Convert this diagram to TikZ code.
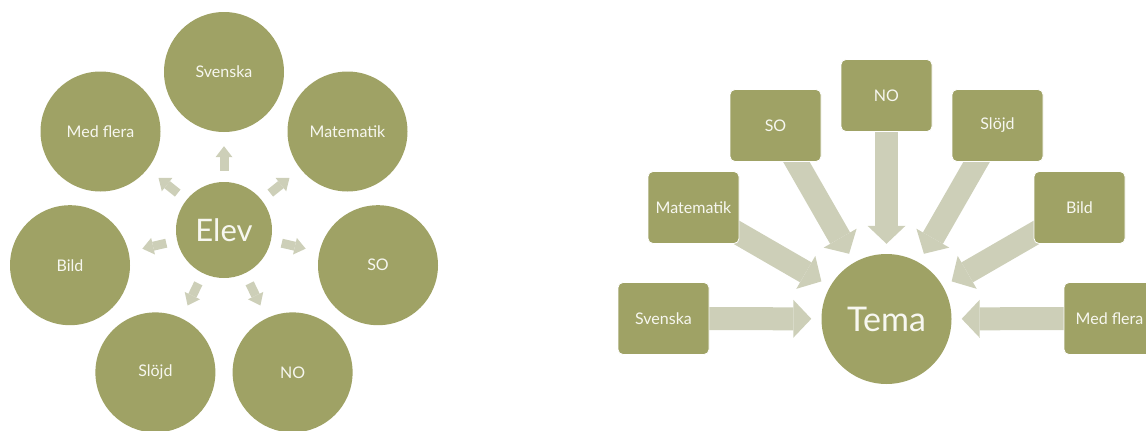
\documentclass[tikz,border=0pt]{standalone}
\usepackage{fontspec}
\setmainfont{Lato}
\usetikzlibrary{arrows.meta,backgrounds}
\definecolor{Olive}{HTML}{9FA265}
\definecolor{Sage}{HTML}{CDCFB8}
\definecolor{Cream}{HTML}{F7F7F0}

\begin{document}
\begin{tikzpicture}[x=1pt,y=-1pt,
    subject/.style={circle,fill=Olive,minimum size=120pt,inner sep=0pt,text=Cream,font=\fontsize{16}{19}\selectfont},
    hub/.style={circle,fill=Olive,inner sep=0pt,text=Cream},
    card/.style={draw=white,line width=0.8pt,rounded corners=5pt,fill=Olive,minimum width=91pt,minimum height=72pt,inner sep=0pt,text=Cream,font=\fontsize{16}{19}\selectfont},
    spoke/.style={draw=Sage,line width=9pt,-{Triangle[length=11pt,width=17pt,line width=0pt]},shorten <=11pt,shorten >=14pt},
    feed/.style={draw=Sage,line width=23pt,-{Triangle[length=18pt,width=38pt,line width=0pt]},shorten >=10pt}
  ]
    \clip (0,0) rectangle (1146,431);
    % Elev
    \node[hub,minimum size=96pt,font=\fontsize{31}{36}\selectfont] (elev) at (224,230) {Elev};
    \node[subject] (sv) at (224,72) {Svenska};
    \node[subject] (ma) at (347.5,131.5) {Matematik};
    \node[subject] (so) at (378,265.2) {SO};
    \node[subject] (no) at (292.6,372.4) {NO};
    \node[subject] (sl) at (155.4,372.4) {Slöjd};
    \node[subject] (bi) at (70,265.2) {Bild};
    \node[subject] (mf) at (100.5,131.5) {Med flera};
    \draw[spoke] (elev)--(sv); \draw[spoke] (elev)--(ma); \draw[spoke] (elev)--(so); \draw[spoke] (elev)--(no);
    \draw[spoke] (elev)--(sl); \draw[spoke] (elev)--(bi); \draw[spoke] (elev)--(mf);
    % Tema
    \node[hub,minimum size=130pt,font=\fontsize{34}{40}\selectfont] (tema) at (886.5,319) {Tema};
    \node[card] (tsv) at (663.5,318.5) {Svenska};
    \node[card] (tma) at (693.5,207.5) {Matematik};
    \node[card] (tso) at (775.5,125.5) {SO};
    \node[card] (tno) at (886.5,95.5) {NO};
    \node[card] (tsl) at (997.5,125.5) {Slöjd};
    \node[card] (tbi) at (1079.5,207.5) {Bild};
    \node[card] (tmf) at (1109.5,318.5) {Med flera};
    \begin{scope}[on background layer]
      \draw[feed] (tsv.center)--(tema); \draw[feed] (tma.center)--(tema); \draw[feed] (tso.center)--(tema);
      \draw[feed] (tno.center)--(tema); \draw[feed] (tsl.center)--(tema); \draw[feed] (tbi.center)--(tema);
      \draw[feed] (tmf.center)--(tema);
    \end{scope}
\end{tikzpicture}
\end{document}
